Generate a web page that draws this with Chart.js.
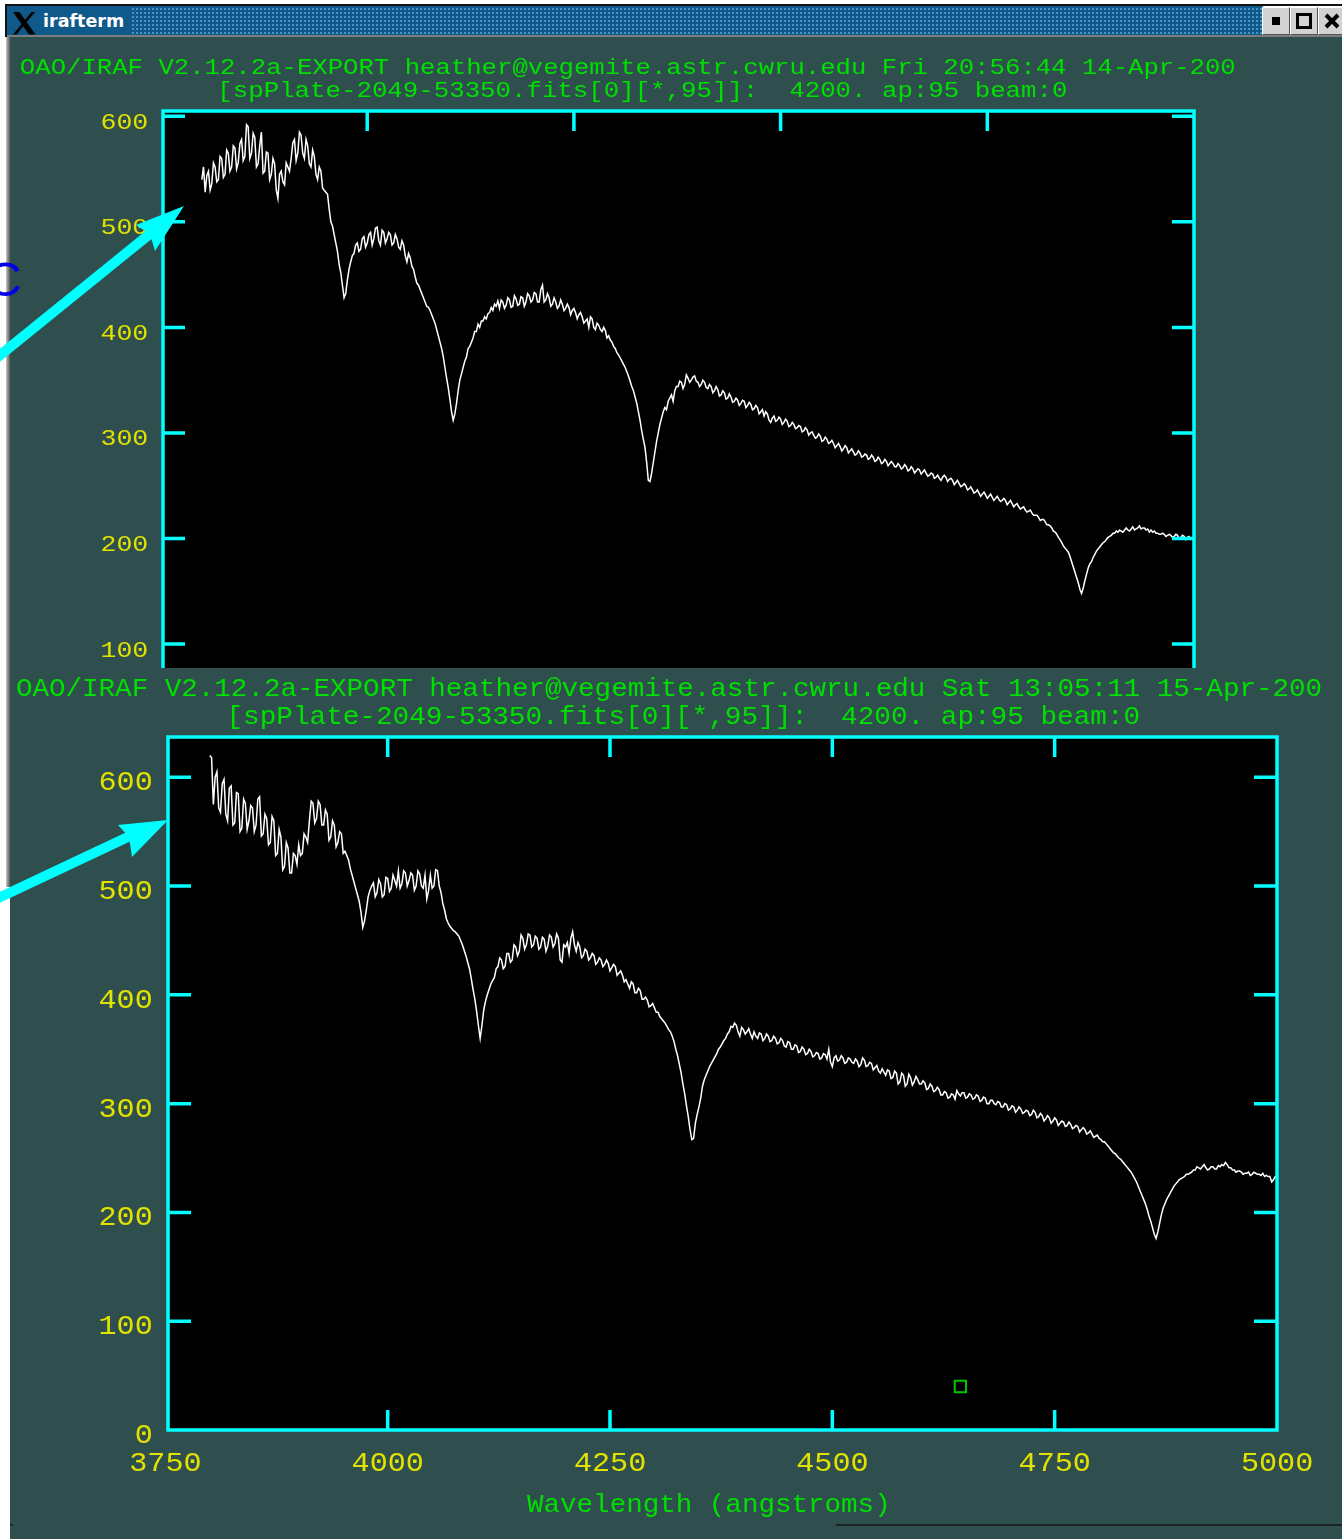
<!DOCTYPE html>
<html>
<head>
<meta charset="utf-8">
<title>irafterm</title>
<script src="https://cdn.jsdelivr.net/npm/chart.js@4.4.1/dist/chart.umd.min.js"></script>
<style>
  html, body { margin: 0; padding: 0; background: #ffffff; }
  body { width: 1342px; height: 1539px; position: relative; overflow: hidden; }
  canvas { display: block; }
  .abs { position: absolute; }
  .win { position: absolute; background: #2f4f4f; }
  #frameTop { left: 5px; top: 4px; width: 1337px; height: 2px; background: #111; }
  #frameLeft { left: 5px; top: 4px; width: 2px; height: 33px; background: #111; }
  #titlebar { left: 7px; top: 6px; width: 1256px; height: 29px; background-color: #0f5a8a; }
  #titledots { left: 130px; top: 6px; width: 1133px; height: 29px;
    background-image: radial-gradient(circle, #4b93c6 0.8px, transparent 1.1px);
    background-size: 4px 4px; background-position: 1px 1px; }
  #titletext { left: 43px; top: 9px; font: bold 17.5px "DejaVu Sans", sans-serif; color: #fff; line-height: 24px; }
  #titleunder { left: 7px; top: 35px; width: 1335px; height: 2px; background: #7c7c7c; }
  .btn { top: 7px; width: 26px; height: 26px; background: #d2d2d2;
    border-top: 1px solid #fff; border-left: 1px solid #fff; border-right: 1px solid #555; border-bottom: 1px solid #555; }
  #leftrail { left: 6px; top: 37px; width: 4px; height: 850px; background: linear-gradient(to right, #c8c8c8, #8a8a8a 50%, #5a5a5a); }
  #bottomrule { left: 836px; top: 1524px; width: 506px; height: 2px; background: #1b2424; }
  #bottommark { left: 10px; top: 1524px; width: 3px; height: 2px; background: #1b2424; }
  #blueC { left: -13px; top: 252px; font: 48px "Liberation Sans", Arial, sans-serif; color: #0000e8; line-height: 56px; z-index: 6; }
</style>
</head>
<body>

<div id="frameTop" class="abs"></div>
<div id="frameLeft" class="abs"></div>
<div id="titlebar" class="abs"></div>
<div id="titledots" class="abs"></div>
<svg class="abs" style="left:0;top:0" width="40" height="40">
  <polygon points="13,12 19.5,12 35.5,34.5 29,34.5" fill="#000"/>
  <polygon points="31.5,12 35,12 16.5,34.5 13,34.5" fill="#000"/>
</svg>
<div id="titletext" class="abs">irafterm</div>
<div class="btn abs" style="left:1262px"><div class="abs" style="left:9px;top:9px;width:8px;height:8px;background:#000"></div></div>
<div class="btn abs" style="left:1290px"><div class="abs" style="left:5px;top:5px;width:10px;height:10px;border:3px solid #000"></div></div>
<div class="btn abs" style="left:1318px"><svg class="abs" style="left:4px;top:4px" width="18" height="18"><path d="M3,3 L15,15 M15,3 L3,15" stroke="#000" stroke-width="4"/></svg></div>
<div id="titleunder" class="abs"></div>

<div id="leftrail" class="abs"></div>

<div class="win" style="left:10px;top:37px;width:1332px;height:723px;z-index:1">
  <canvas id="plotTop" width="1332" height="723"></canvas>
</div>
<div class="win" style="left:10px;top:668px;width:1332px;height:871px;z-index:3">
  <canvas id="plotBottom" width="1332" height="871"></canvas>
</div>
<div id="bottomrule" class="abs" style="z-index:4"></div>
<div id="bottommark" class="abs" style="z-index:4"></div>

<div id="blueC" class="abs">C</div>
<svg class="abs" style="left:0;top:0;z-index:6" width="1342" height="1539">
  <line x1="-12" y1="365" x2="151" y2="233" stroke="#00ffff" stroke-width="10"/>
  <polygon points="184,206 136,225 150,234 155,251" fill="#00ffff"/>
  <line x1="-12" y1="903" x2="130" y2="836" stroke="#00ffff" stroke-width="10"/>
  <polygon points="168,820 118,825 129,837 132,857" fill="#00ffff"/>
</svg>

<script>
// Wavelength grid of the extracted aperture (Angstroms)
const WAVE_START = 3800;
const WAVE_STEP = 2;

// ap:95 flux, first plot (14-Apr session); one row per 40 A, starting at 3800
const FLUX_TOP = [
  540,552,528,544,548,530,536,556,552,538,540,562,560,542,545,568,565,548,552,572,
  570,550,556,574,578,558,562,592,590,560,565,584,580,552,555,572,585,546,548,566,
  565,540,545,560,555,530,522,545,548,538,535,556,552,548,560,575,578,558,565,585,
  582,565,560,578,572,555,552,568,562,545,540,552,548,532,530,528,526,512,500,496,
  488,480,472,460,452,440,428,432,445,455,462,468,470,478,480,472,474,484,486,476,
  480,488,490,478,484,494,495,482,478,492,490,480,484,490,488,478,480,488,484,476,
  474,482,478,468,462,470,466,458,455,448,442,440,436,432,428,424,420,419,416,412,
  408,404,398,392,386,380,372,362,352,343,332,320,312,318,328,340,350,356,362,368,
  372,380,382,386,390,396,396,403,400,406,406,410,408,413,414,419,416,422,420,425,
  418,426,424,418,421,428,426,419,420,430,427,421,422,429,428,420,424,432,430,424,
  426,433,432,424,424,436,440,424,426,432,428,420,422,428,424,418,420,426,422,416,
  418,422,419,412,416,418,414,408,412,414,410,404,406,408,400,410,408,400,398,404,
  402,398,396,400,397,390,392,388,386,382,380,376,374,371,368,365,362,358,354,349,
  344,340,334,328,320,312,302,294,286,272,255,254,262,272,282,292,300,308,314,320,
  324,322,330,333,336,330,340,344,344,349,348,342,346,355,352,348,350,353,354,349,
  348,344,346,350,348,343,342,346,344,338,340,344,341,335,336,340,338,332,333,337,
  334,329,330,333,331,326,328,331,330,324,326,329,327,322,323,326,324,318,320,322,
  316,320,318,312,310,314,316,311,312,315,313,308,310,313,311,306,307,310,308,304,
  305,307,306,301,302,305,303,298,300,301,298,295,296,299,297,292,293,296,294,290,
  291,293,290,286,288,290,287,283,285,288,286,281,283,285,282,279,280,283,281,277,
  278,280,279,275,276,279,277,273,274,277,275,271,272,275,273,269,271,273,271,268,
  268,271,269,266,267,270,268,264,265,268,266,262,264,266,265,261,263,265,262,259,
  260,262,261,257,258,260,257,255,258,260,258,254,256,257,255,251,253,255,252,249,
  250,252,250,246,247,249,246,243,244,246,243,240,242,244,241,238,240,242,239,236,
  238,240,237,235,236,238,236,232,234,236,233,230,232,233,230,228,229,230,227,225,
  226,227,224,222,222,222,220,217,218,218,216,213,213,212,210,207,206,204,201,199,
  196,193,191,189,187,183,178,173,168,163,158,152,148,153,160,166,172,176,178,182,
  185,188,190,192,194,196,197,199,201,202,203,205,205,207,206,208,207,206,208,210,
  208,207,209,211,208,209,210,212,209,210,210,208,209,206,208,206,207,205,205,204,
  204,205,204,202,203,204,203,201,202,204,203,200,201,203,202,199,201,202,200,199,
  201
];

// ap:95 flux, second plot (15-Apr session), same grid
const FLUX_BOTTOM = [
  620,618,575,600,605,572,568,594,598,566,560,590,592,556,558,586,585,550,553,580,
  576,552,560,574,572,550,556,580,582,546,548,566,562,538,540,564,560,528,530,552,
  545,515,518,540,535,512,512,530,528,520,538,528,530,548,545,540,560,578,576,558,
  562,578,575,556,556,570,566,542,545,560,556,536,540,550,548,530,532,528,524,516,
  510,504,498,492,486,476,462,468,478,490,496,500,503,490,494,506,502,490,492,508,
  507,495,498,510,505,500,514,498,502,514,512,500,505,512,510,496,500,514,511,500,
  498,510,488,496,510,498,500,515,514,500,494,484,478,470,466,463,461,459,458,456,
  454,450,446,441,436,430,424,415,405,396,385,372,360,372,386,394,400,405,410,413,
  416,424,426,434,432,424,426,438,438,430,432,446,444,436,440,455,452,442,446,456,
  455,444,446,454,452,442,444,453,451,440,445,455,453,444,447,456,452,432,430,446,
  444,448,438,452,458,446,440,448,444,434,436,442,440,432,434,438,436,428,430,434,
  432,426,428,432,429,422,425,428,426,418,420,422,418,412,414,410,406,412,410,402,
  402,406,404,396,396,398,395,389,390,392,388,384,384,380,378,376,374,371,368,366,
  362,357,350,344,336,328,318,309,298,288,276,267,268,282,290,297,305,316,322,326,
  330,334,337,340,343,346,350,352,355,358,360,364,366,371,370,374,372,366,362,370,
  368,364,366,369,364,360,366,362,360,365,364,358,360,364,362,357,358,362,360,355,
  356,360,358,353,352,357,356,350,350,354,353,347,348,352,350,345,346,350,348,343,
  344,347,346,341,342,346,345,341,350,338,334,342,344,339,340,344,342,337,338,342,
  341,338,337,341,339,334,336,342,340,334,335,338,337,331,333,335,330,328,332,329,
  326,331,330,323,324,330,328,318,320,328,326,316,318,327,324,317,320,325,322,318,
  318,321,319,313,314,318,316,311,312,315,313,308,308,311,310,305,306,309,308,304,
  312,309,307,310,310,305,306,309,308,304,305,308,307,302,303,306,305,300,300,303,
  303,300,299,302,301,297,297,300,299,294,295,298,297,292,294,297,295,291,292,294,
  293,289,290,294,292,287,288,291,289,284,286,289,287,282,284,287,285,280,282,284,
  283,279,280,283,281,277,278,280,279,274,276,278,276,272,273,275,272,269,270,271,
  268,267,265,265,263,261,259,257,255,254,252,250,249,247,245,243,241,239,237,234,
  231,228,224,220,216,212,208,203,197,192,186,180,176,182,190,198,204,208,212,215,
  218,221,224,226,228,230,231,232,233,235,235,236,237,239,239,242,241,240,242,244,
  241,239,240,242,242,240,240,243,242,244,243,246,244,241,241,239,239,237,238,238,
  237,235,236,236,237,234,235,237,236,235,235,234,236,233,234,233,233,228,230,233,
  232
];

// Axis ticks and their labels
const X_TICKS = [3750, 4000, 4250, 4500, 4750, 5000];
const X_TICK_LABELS = ['3750', '4000', '4250', '4500', '4750', '5000'];
const Y_TICKS = [0, 100, 200, 300, 400, 500, 600];
const Y_TICK_LABELS = ['0', '100', '200', '300', '400', '500', '600'];

// Cursor mark left on the second plot
const CURSOR_MARK = [{ x: 4644, y: 40 }];

const HEADER_TOP = [
  'OAO/IRAF V2.12.2a-EXPORT heather@vegemite.astr.cwru.edu Fri 20:56:44 14-Apr-200',
  '[spPlate-2049-53350.fits[0][*,95]]:  4200. ap:95 beam:0'
];
const HEADER_BOTTOM = [
  'OAO/IRAF V2.12.2a-EXPORT heather@vegemite.astr.cwru.edu Sat 13:05:11 15-Apr-200',
  '[spPlate-2049-53350.fits[0][*,95]]:  4200. ap:95 beam:0'
];
const X_TITLE = 'Wavelength (angstroms)';

const CYAN = '#00ffff';
const GREEN = '#00e000';
const YELLOW = '#e2e200';
const WINDOW_BG = '#2f4f4f';
const MONO = '"Liberation Mono", "DejaVu Sans Mono", monospace';

function spectrumPoints(flux) {
  return flux.map((f, i) => ({ x: WAVE_START + i * WAVE_STEP, y: f }));
}

// font size whose digit/cap ink height equals capH
function sizeForCap(ctx, capH) {
  ctx.font = '100px ' + MONO;
  const m = ctx.measureText('0');
  return 100 * capH / m.actualBoundingBoxAscent;
}

// draw text stretched horizontally; anchored by its ink extents
function drawStretched(ctx, text, opts) {
  const size = sizeForCap(ctx, opts.capH);
  ctx.font = size.toFixed(2) + 'px ' + MONO;
  const m = ctx.measureText(text);
  const inkL = m.actualBoundingBoxLeft, inkR = m.actualBoundingBoxRight;
  const inkW = inkL + inkR;
  let sx = opts.sx;
  if (opts.right !== undefined && opts.left !== undefined) sx = (opts.right - opts.left) / inkW;
  const w = inkW * sx;
  let left;
  if (opts.left !== undefined) left = opts.left;
  else if (opts.align === 'right') left = opts.x - w;
  else left = opts.x - w / 2;
  ctx.save();
  ctx.fillStyle = opts.color;
  ctx.textAlign = 'left';
  ctx.textBaseline = 'alphabetic';
  ctx.translate(left + inkL * sx, opts.baseline);
  ctx.scale(sx, 1);
  ctx.fillText(text, 0, 0);
  ctx.restore();
}

// window background, black plot field, cyan box with inward ticks, labels and headers
function irafPlot(cfg) {
  return {
    id: 'irafPlot',
    beforeDraw(chart) {
      const { ctx, chartArea: a } = chart;
      ctx.save();
      ctx.fillStyle = WINDOW_BG;
      ctx.fillRect(0, 0, chart.width, chart.height);
      ctx.fillStyle = '#000';
      ctx.fillRect(a.left, a.top, a.right - a.left, a.bottom - a.top);
      ctx.restore();
    },
    afterDraw(chart) {
      const { ctx, chartArea: a, scales } = chart;
      const xs = scales.x, ys = scales.y;
      const ox = cfg.offset[0], oy = cfg.offset[1];
      ctx.save();
      ctx.strokeStyle = CYAN;
      ctx.lineWidth = cfg.lineW;
      ctx.lineJoin = 'miter';
      ctx.strokeRect(a.left, a.top, a.right - a.left, a.bottom - a.top);
      ctx.beginPath();
      X_TICKS.forEach(v => {
        if (v <= xs.min || v >= xs.max) return;
        const px = xs.getPixelForValue(v);
        ctx.moveTo(px, a.top); ctx.lineTo(px, a.top + cfg.xTickLen);
        ctx.moveTo(px, a.bottom); ctx.lineTo(px, a.bottom - cfg.xTickLen);
      });
      Y_TICKS.forEach(v => {
        if (v <= ys.min || v >= ys.max) return;
        const py = ys.getPixelForValue(v);
        ctx.moveTo(a.left, py); ctx.lineTo(a.left + cfg.yTickLen, py);
        ctx.moveTo(a.right, py); ctx.lineTo(a.right - cfg.yTickLen, py);
      });
      ctx.stroke();
      ctx.restore();

      // y tick labels
      Y_TICKS.forEach((v, i) => {
        if (v > ys.max) return;
        const py = ys.getPixelForValue(v);
        drawStretched(ctx, Y_TICK_LABELS[i], {
          x: a.left - cfg.yLabelGap, align: 'right', baseline: py + cfg.yLabelDrop,
          capH: cfg.labelCap, sx: cfg.labelSx, color: YELLOW
        });
      });
      // x tick labels and axis title
      if (cfg.xLabels) {
        X_TICKS.forEach((v, i) => {
          drawStretched(ctx, X_TICK_LABELS[i], {
            x: xs.getPixelForValue(v), align: 'center', baseline: a.bottom + cfg.xLabelDrop,
            capH: cfg.labelCap, sx: cfg.labelSx, color: YELLOW
          });
        });
        const t = cfg.xTitle;
        drawStretched(ctx, X_TITLE, { left: t.left - ox, right: t.right - ox, baseline: t.baseline - oy, capH: t.capH, color: GREEN });
      }
      // header lines
      cfg.headers.forEach((h, i) => {
        drawStretched(ctx, cfg.headerText[i], { left: h.left - ox, right: h.right - ox, baseline: h.baseline - oy, capH: h.capH, color: GREEN });
      });
    }
  };
}

function makeChart(id, flux, ymax, pad, cfg, extra) {
  const datasets = [{
    type: 'line',
    data: spectrumPoints(flux),
    borderColor: '#ffffff',
    borderWidth: 1.5,
    pointRadius: 0,
    tension: 0,
    fill: false
  }];
  if (extra) datasets.push(extra);
  return new Chart(document.getElementById(id), {
    type: 'line',
    data: { datasets },
    options: {
      responsive: false,
      animation: false,
      devicePixelRatio: 1,
      parsing: false,
      events: [],
      layout: { padding: pad },
      scales: {
        x: { type: 'linear', min: 3753, max: 5000, display: false },
        y: { type: 'linear', min: 0, max: ymax, display: false }
      },
      plugins: { legend: { display: false }, tooltip: { enabled: false }, title: { display: false } }
    },
    plugins: [irafPlot(cfg)]
  });
}

makeChart('plotTop', FLUX_TOP, 605,
  { left: 153, top: 74, right: 148, bottom: 10.4 },
  {
    offset: [10, 37], lineW: 3.5, xTickLen: 20, yTickLen: 22,
    yLabelGap: 16, yLabelDrop: 12.5, labelCap: 14.8, labelSx: 1.22, xLabels: false,
    headerText: HEADER_TOP,
    headers: [
      { left: 21, right: 1235, baseline: 74, capH: 15.5 },
      { left: 222, right: 1066, baseline: 97, capH: 15 }
    ]
  });

makeChart('plotBottom', FLUX_BOTTOM, 637,
  { left: 158, top: 69, right: 65, bottom: 109 },
  {
    offset: [10, 668], lineW: 3.5, xTickLen: 20, yTickLen: 23,
    yLabelGap: 16.5, yLabelDrop: 13, labelCap: 18.3, labelSx: 1.12, xLabels: true,
    xLabelDrop: 40.7,
    xTitle: { left: 527, right: 887, baseline: 1512, capH: 17.5 },
    headerText: HEADER_BOTTOM,
    headers: [
      { left: 17, right: 1321, baseline: 696, capH: 17 },
      { left: 232, right: 1139, baseline: 724, capH: 17 }
    ]
  },
  {
    type: 'scatter',
    data: CURSOR_MARK,
    showLine: false,
    pointStyle: 'rect',
    pointRadius: 8,
    borderColor: '#00c800',
    borderWidth: 2,
    backgroundColor: 'rgba(0,0,0,0)'
  });
</script>
</body>
</html>
